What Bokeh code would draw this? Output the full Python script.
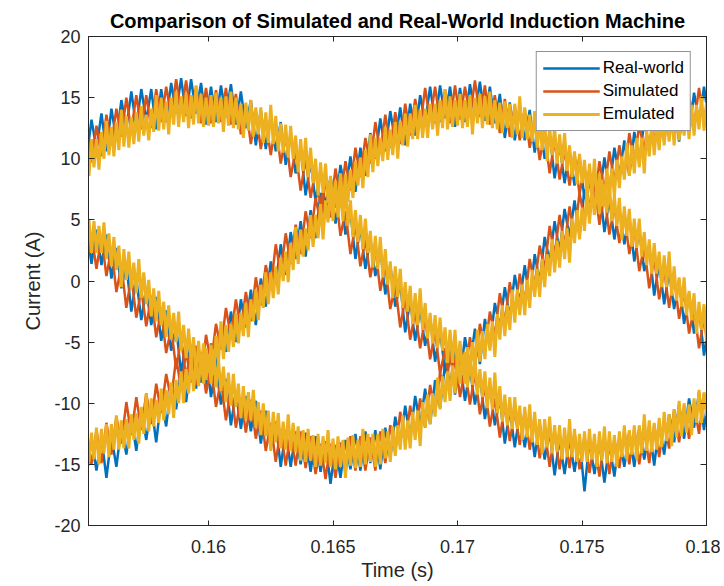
from bokeh.plotting import figure
from bokeh.models import (Range1d, FixedTicker, LinearAxis, CustomJSTickFormatter,
                          Legend, LegendItem)
from bokeh.embed import file_html
from bokeh.resources import INLINE

# ---------------- data ----------------
time_fine = [
    0.1551, 0.1552, 0.1553, 0.1554, 0.1555, 0.1556, 0.1557, 0.1558, 0.1559,
    0.1560, 0.1561, 0.1562, 0.1563, 0.1564, 0.1565, 0.1566, 0.1567, 0.1568, 0.1569,
    0.1570, 0.1571, 0.1572, 0.1573, 0.1574, 0.1575, 0.1576, 0.1577, 0.1578, 0.1579,
    0.1580, 0.1581, 0.1582, 0.1583, 0.1584, 0.1585, 0.1586, 0.1587, 0.1588, 0.1589,
    0.1590, 0.1591, 0.1592, 0.1593, 0.1594, 0.1595, 0.1596, 0.1597, 0.1598, 0.1599,
    0.1600, 0.1601, 0.1602, 0.1603, 0.1604, 0.1605, 0.1606, 0.1607, 0.1608, 0.1609,
    0.1610, 0.1611, 0.1612, 0.1613, 0.1614, 0.1615, 0.1616, 0.1617, 0.1618, 0.1619,
    0.1620, 0.1621, 0.1622, 0.1623, 0.1624, 0.1625, 0.1626, 0.1627, 0.1628, 0.1629,
    0.1630, 0.1631, 0.1632, 0.1633, 0.1634, 0.1635, 0.1636, 0.1637, 0.1638, 0.1639,
    0.1640, 0.1641, 0.1642, 0.1643, 0.1644, 0.1645, 0.1646, 0.1647, 0.1648, 0.1649,
    0.1650, 0.1651, 0.1652, 0.1653, 0.1654, 0.1655, 0.1656, 0.1657, 0.1658, 0.1659,
    0.1660, 0.1661, 0.1662, 0.1663, 0.1664, 0.1665, 0.1666, 0.1667, 0.1668, 0.1669,
    0.1670, 0.1671, 0.1672, 0.1673, 0.1674, 0.1675, 0.1676, 0.1677, 0.1678, 0.1679,
    0.1680, 0.1681, 0.1682, 0.1683, 0.1684, 0.1685, 0.1686, 0.1687, 0.1688, 0.1689,
    0.1690, 0.1691, 0.1692, 0.1693, 0.1694, 0.1695, 0.1696, 0.1697, 0.1698, 0.1699,
    0.1700, 0.1701, 0.1702, 0.1703, 0.1704, 0.1705, 0.1706, 0.1707, 0.1708, 0.1709,
    0.1710, 0.1711, 0.1712, 0.1713, 0.1714, 0.1715, 0.1716, 0.1717, 0.1718, 0.1719,
    0.1720, 0.1721, 0.1722, 0.1723, 0.1724, 0.1725, 0.1726, 0.1727, 0.1728, 0.1729,
    0.1730, 0.1731, 0.1732, 0.1733, 0.1734, 0.1735, 0.1736, 0.1737, 0.1738, 0.1739,
    0.1740, 0.1741, 0.1742, 0.1743, 0.1744, 0.1745, 0.1746, 0.1747, 0.1748, 0.1749,
    0.1750, 0.1751, 0.1752, 0.1753, 0.1754, 0.1755, 0.1756, 0.1757, 0.1758, 0.1759,
    0.1760, 0.1761, 0.1762, 0.1763, 0.1764, 0.1765, 0.1766, 0.1767, 0.1768, 0.1769,
    0.1770, 0.1771, 0.1772, 0.1773, 0.1774, 0.1775, 0.1776, 0.1777, 0.1778, 0.1779,
    0.1780, 0.1781, 0.1782, 0.1783, 0.1784, 0.1785, 0.1786, 0.1787, 0.1788, 0.1789,
    0.1790, 0.1791, 0.1792, 0.1793, 0.1794, 0.1795, 0.1796, 0.1797, 0.1798, 0.1799,
    0.1800, 0.1801,
]
time_coarse = time_fine[::2]

# Real-world (blue), sampled on time_coarse
real_a = [
    9.9, 13.2, 10.8, 13.7, 10.6, 14.1, 11.5, 14.8, 12.5, 15.5,
    12.6, 15.7, 13.1, 15.7, 12.4, 15.7, 13.0, 16.2, 13.7, 16.6,
    13.5, 16.5, 13.7, 16.2, 12.8, 15.9, 13.0, 16.0, 13.4, 16.1,
    12.8, 15.5, 12.5, 14.8, 11.1, 14.0, 10.8, 13.5, 10.6, 13.0,
    9.5, 12.0, 8.8, 10.9, 7.0, 9.8, 6.5, 9.1, 6.1, 8.4,
    4.7, 7.2, 3.8, 5.7, 1.8, 4.4, 1.0, 3.5, 0.4, 2.6,
    -1.1, 1.3, -2.1, -0.2, -4.2, -1.6, -4.9, -2.3, -5.3, -3.0,
    -6.6, -4.1, -7.4, -5.4, -9.3, -6.5, -9.8, -7.2, -10.1, -7.8,
    -11.3, -8.6, -11.8, -9.6, -13.3, -10.5, -13.6, -10.8, -13.6, -11.1,
    -14.4, -11.6, -14.6, -12.3, -15.9, -12.9, -15.8, -12.9, -15.6, -12.9,
    -17.2, -13.0, -15.8, -13.2, -16.5, -13.3, -16.0, -12.8, -15.2, -12.3,
    -15.2, -12.0, -14.6, -11.9, -15.1, -11.7, -14.2, -10.9, -13.2, -10.1,
    -12.9, -9.6, -12.0, -9.1, -12.2, -8.6,
]
real_b = [
    4.5, 1.4, 4.2, 1.3, 3.8, 0.2, 2.7, -0.6, 1.4, -2.5,
    0.2, -3.2, -0.6, -3.6, -1.3, -4.9, -2.4, -5.7, -3.7, -7.6,
    -4.8, -8.1, -5.4, -8.3, -6.0, -9.5, -6.9, -10.1, -8.0, -11.8,
    -9.0, -12.1, -9.4, -12.3, -9.8, -13.3, -10.6, -13.7, -11.5, -15.2,
    -12.2, -15.2, -12.3, -15.0, -12.4, -15.6, -12.7, -15.6, -13.1, -16.6,
    -13.4, -16.1, -13.0, -15.4, -12.5, -15.5, -12.3, -14.9, -12.2, -15.4,
    -12.0, -14.5, -11.1, -13.3, -10.2, -12.9, -9.4, -11.8, -8.8, -11.7,
    -8.1, -10.4, -6.8, -8.8, -5.5, -8.1, -4.6, -6.9, -3.9, -6.8,
    -3.1, -5.4, -1.8, -3.8, -0.5, -3.0, 0.5, -1.8, 1.3, -1.6,
    2.2, -0.1, 3.6, 1.6, 4.9, 2.4, 5.9, 3.6, 6.6, 3.7,
    7.5, 5.2, 8.8, 6.8, 10.1, 7.4, 10.9, 8.6, 11.5, 8.6,
    12.2, 9.7, 13.1, 10.9, 14.0, 11.2, 14.4, 11.9, 14.6, 11.4,
    14.8, 12.1, 15.4, 13.0, 15.9, 12.9,
]
real_c = [
    -16.0, -12.9, -15.5, -12.8, -16.1, -12.7, -15.2, -11.9, -14.2, -11.1,
    -13.9, -10.6, -13.0, -10.1, -13.2, -9.6, -11.9, -8.4, -10.5, -7.2,
    -9.9, -6.4, -8.8, -5.8, -8.7, -5.1, -7.4, -3.8, -5.8, -2.5,
    -5.0, -1.5, -3.8, -0.7, -3.6, 0.2, -2.1, 1.6, -0.3, 3.0,
    0.5, 4.0, 1.8, 4.9, 2.0, 5.8, 3.5, 7.2, 5.2, 8.5,
    6.0, 9.5, 7.2, 10.2, 7.3, 10.9, 8.6, 12.1, 10.0, 13.3,
    10.6, 13.9, 11.4, 14.2, 11.1, 14.5, 11.9, 15.2, 12.9, 15.9,
    12.9, 16.0, 13.3, 15.9, 12.6, 15.8, 13.0, 16.1, 13.6, 16.3,
    13.1, 15.9, 12.9, 15.3, 11.7, 14.6, 11.5, 14.3, 11.5, 14.0,
    10.5, 13.2, 10.0, 12.1, 8.4, 11.2, 8.0, 10.7, 7.8, 10.2,
    6.7, 9.2, 5.9, 7.9, 4.0, 6.7, 3.4, 6.0, 3.0, 5.3,
    1.6, 4.1, 0.8, 2.7, -1.2, 1.5, -1.9, 0.8, -2.3, 0.1,
    -3.5, -1.0, -4.3, -2.2, -6.1, -3.3,
]

# Simulated (orange), sampled on time_coarse
simulated_a = [
    12.3, 9.7, 12.7, 10.2, 13.6, 11.1, 14.1, 11.8, 15.0, 12.3,
    15.2, 12.4, 15.2, 12.5, 15.7, 13.0, 15.9, 13.5, 16.5, 13.7,
    16.4, 13.3, 15.9, 12.9, 15.8, 12.9, 15.6, 13.0, 15.8, 12.8,
    15.3, 12.0, 14.4, 11.2, 13.9, 10.8, 13.2, 10.3, 12.9, 9.6,
    11.9, 8.5, 10.7, 7.4, 10.0, 6.8, 9.1, 6.1, 8.6, 5.2,
    7.3, 3.7, 5.7, 2.2, 4.6, 1.2, 3.4, 0.3, 2.7, -0.8,
    1.3, -2.3, -0.3, -3.8, -1.4, -4.8, -2.5, -5.5, -3.0, -6.4,
    -4.1, -7.6, -5.5, -8.8, -6.3, -9.5, -7.2, -10.1, -7.5, -10.9,
    -8.6, -11.9, -9.6, -12.8, -10.1, -13.1, -10.6, -13.4, -10.6, -13.8,
    -11.3, -14.5, -12.1, -15.2, -12.4, -15.4, -12.7, -15.3, -12.4, -15.4,
    -12.7, -15.7, -13.1, -16.0, -13.0, -15.8, -12.9, -15.3, -12.2, -15.0,
    -12.1, -15.0, -12.2, -14.9, -11.8, -14.4, -11.4, -13.7, -10.5, -13.2,
    -10.2, -12.9, -10.0, -12.5, -9.2, -11.6,
]
simulated_b = [
    1.3, 3.8, 1.0, 3.6, 0.4, 2.7, -0.9, 1.3, -2.2, 0.4,
    -3.0, -0.7, -3.7, -1.2, -4.6, -2.4, -5.9, -3.8, -7.2, -4.7,
    -7.9, -5.5, -8.5, -5.9, -9.2, -6.9, -10.3, -8.1, -11.4, -8.8,
    -12.0, -9.5, -12.4, -9.7, -12.9, -10.6, -13.9, -11.6, -14.8, -12.1,
    -15.1, -12.4, -15.1, -12.3, -15.3, -12.7, -15.8, -13.3, -16.2, -13.3,
    -16.1, -13.2, -15.7, -12.7, -15.5, -12.7, -15.5, -12.8, -15.5, -12.3,
    -14.9, -11.8, -14.0, -10.7, -13.3, -10.2, -12.7, -9.6, -12.0, -8.5,
    -10.8, -7.5, -9.5, -6.0, -8.4, -5.2, -7.7, -4.6, -7.0, -3.5,
    -5.8, -2.5, -4.5, -1.0, -3.4, -0.1, -2.6, 0.6, -1.7, 1.8,
    -0.4, 2.9, 1.0, 4.5, 2.1, 5.4, 2.9, 6.1, 3.7, 7.2,
    5.0, 8.3, 6.3, 9.8, 7.4, 10.6, 8.1, 11.1, 8.6, 12.1,
    9.7, 12.8, 10.6, 13.9, 11.3, 14.2, 11.4, 14.3, 11.6, 14.8,
    12.2, 15.1, 12.7, 15.8, 13.0, 15.8,
]
simulated_c = [
    -12.3, -15.0, -12.2, -14.9, -11.6, -14.2, -11.1, -13.3, -9.9, -12.6,
    -9.5, -12.2, -9.2, -11.7, -8.4, -10.8, -7.6, -9.7, -6.3, -8.8,
    -5.7, -8.3, -5.3, -7.8, -4.4, -6.8, -3.5, -5.6, -2.2, -4.6,
    -1.5, -4.0, -0.9, -3.3, 0.3, -2.0, 1.3, -0.6, 3.0, 0.6,
    3.9, 1.4, 4.6, 2.2, 5.7, 3.5, 6.8, 4.8, 8.3, 5.9,
    9.2, 6.7, 9.8, 7.4, 10.9, 8.5, 11.7, 9.6, 13.0, 10.5,
    13.6, 10.9, 13.8, 11.2, 14.5, 11.9, 14.9, 12.6, 15.8, 13.1,
    15.9, 13.0, 15.7, 12.9, 16.0, 13.2, 15.9, 13.4, 16.4, 13.4,
    16.0, 12.8, 15.2, 12.1, 14.9, 11.8, 14.3, 11.5, 14.1, 10.9,
    13.2, 9.9, 12.1, 8.8, 11.5, 8.3, 10.7, 7.8, 10.4, 7.1,
    9.4, 5.9, 8.0, 4.6, 7.1, 3.8, 6.1, 3.1, 5.6, 2.2,
    4.3, 0.8, 2.9, -0.6, 1.9, -1.5, 0.9, -2.2, 0.4, -3.1,
    -0.8, -4.3, -2.2, -5.5, -3.0, -6.2,
]

# Emulated (yellow), sampled on time_fine
emulated_a = [
    10.9, 8.6, 11.6, 9.3, 11.6, 9.1, 12.2, 10.0, 13.1,
    10.3, 12.6, 10.2, 13.0, 10.7, 14.0, 11.0, 13.5, 10.9, 13.4,
    11.2, 13.8, 11.4, 14.3, 11.9, 13.6, 11.5, 14.1, 12.2, 15.2,
    12.3, 15.0, 12.4, 14.7, 12.0, 15.0, 12.8, 15.5, 12.6, 15.1,
    13.0, 15.3, 12.5, 15.2, 12.8, 16.0, 12.9, 15.3, 12.6, 15.0,
    12.7, 15.2, 12.6, 15.4, 12.9, 15.0, 12.2, 15.1, 12.7, 15.5,
    12.5, 15.0, 12.4, 14.5, 11.7, 14.6, 12.3, 14.8, 11.8, 14.2,
    12.0, 14.2, 11.3, 13.8, 11.3, 14.4, 11.2, 13.5, 10.6, 12.9,
    10.5, 12.8, 10.1, 12.7, 10.0, 11.9, 8.9, 11.6, 9.0, 11.7,
    8.5, 10.9, 8.0, 10.0, 7.0, 9.7, 7.2, 9.6, 6.4, 8.6,
    6.2, 8.2, 5.2, 7.6, 4.9, 7.9, 4.5, 6.6, 3.6, 5.8,
    3.2, 5.4, 2.6, 5.1, 2.3, 4.1, 1.1, 3.7, 1.0, 3.6,
    0.3, 2.6, -0.3, 1.6, -1.4, 1.2, -1.3, 1.0, -2.2, -0.1,
    -2.5, -0.4, -3.5, -1.0, -3.6, -0.6, -4.0, -1.8, -4.7, -2.6,
    -5.1, -2.8, -5.5, -3.0, -5.7, -3.8, -6.7, -4.0, -6.7, -4.0,
    -7.2, -4.9, -7.7, -5.8, -8.7, -6.1, -8.5, -6.2, -9.3, -7.2,
    -9.5, -7.4, -10.4, -7.9, -10.5, -7.5, -10.8, -8.6, -11.5, -9.3,
    -11.8, -9.5, -12.1, -9.5, -12.1, -10.2, -13.0, -10.3, -12.8, -10.1,
    -13.2, -10.7, -13.4, -11.3, -14.1, -11.3, -13.6, -11.1, -14.1, -11.8,
    -14.0, -11.8, -14.6, -12.0, -14.4, -11.3, -14.4, -12.1, -14.8, -12.5,
    -14.8, -12.3, -14.8, -12.1, -14.6, -12.5, -15.2, -12.3, -14.7, -11.9,
    -14.9, -12.3, -14.8, -12.6, -15.2, -12.3, -14.4, -11.8, -14.6, -12.2,
    -14.2, -11.8, -14.6, -11.8, -14.1, -10.9, -13.9, -11.4, -14.0, -11.6,
    -13.8, -11.2, -13.6, -10.7, -13.1, -10.9, -13.5, -10.5, -12.8, -9.8,
    -12.7, -10.0, -12.4, -10.1, -12.6, -9.6, -11.6, -8.9, -11.6, -9.1,
    -11.0, -8.5,
]
emulated_b = [
    3.1, 5.0, 2.3, 4.9, 2.3, 4.5, 2.3, 4.8, 1.8,
    3.9, 1.2, 3.6, 0.9, 2.9, -0.5, 2.6, 0.1, 2.4, -0.6,
    1.5, -1.0, 1.8, -1.4, 0.7, -1.9, 0.1, -2.9, -0.6, -3.3,
    -0.8, -3.6, -1.7, -4.6, -2.0, -4.8, -2.6, -5.0, -2.5, -5.7,
    -3.6, -6.3, -3.9, -6.6, -4.6, -8.0, -4.9, -7.4, -5.1, -8.1,
    -6.0, -8.4, -5.6, -8.7, -6.5, -9.0, -7.0, -9.9, -7.5, -10.2,
    -7.6, -10.3, -8.4, -11.2, -8.6, -11.3, -9.1, -11.4, -8.9, -12.0,
    -9.9, -12.6, -10.0, -12.7, -10.6, -13.9, -10.7, -13.2, -10.8, -13.7,
    -11.5, -13.8, -10.9, -13.9, -11.6, -14.0, -11.9, -14.7, -12.2, -14.8,
    -12.1, -14.7, -12.6, -15.2, -12.5, -15.1, -12.7, -14.9, -12.2, -15.2,
    -12.9, -15.4, -12.7, -15.2, -13.0, -16.1, -12.8, -15.1, -12.6, -15.3,
    -13.0, -15.2, -12.1, -15.0, -12.5, -14.8, -12.5, -15.2, -12.5, -15.0,
    -12.1, -14.5, -12.3, -14.8, -11.9, -14.3, -11.8, -13.8, -11.0, -13.8,
    -11.4, -13.7, -10.7, -13.0, -10.6, -13.5, -9.9, -12.0, -9.3, -11.7,
    -9.2, -11.1, -7.9, -10.5, -7.8, -9.9, -7.4, -9.8, -6.9, -9.2,
    -6.1, -8.4, -6.0, -8.4, -5.4, -7.7, -5.0, -6.9, -4.0, -6.6,
    -4.1, -6.4, -3.5, -5.7, -3.3, -6.2, -2.7, -4.8, -2.0, -4.5,
    -2.0, -4.0, -0.7, -3.4, -0.7, -2.8, -0.3, -2.8, 0.1, -2.2,
    0.9, -1.3, 1.0, -1.3, 1.8, -0.5, 2.2, 0.4, 3.4, 0.7,
    3.3, 1.1, 4.1, 1.8, 4.3, 1.5, 5.1, 3.1, 5.8, 3.4,
    6.0, 4.1, 7.4, 4.7, 7.4, 5.4, 7.9, 5.5, 8.3, 6.1,
    9.2, 6.9, 9.2, 6.9, 9.9, 7.6, 10.2, 8.3, 11.3, 8.6,
    11.1, 8.8, 11.7, 9.3, 11.7, 8.8, 12.3, 10.2, 12.8, 10.3,
    12.8, 10.7, 13.8, 11.1, 13.6, 11.4, 13.7, 11.1, 13.9, 11.5,
    14.4, 11.9, 14.1, 11.6, 14.4, 11.9, 14.4, 12.4, 15.1, 12.3,
    14.6, 12.1,
]
emulated_c = [
    -12.0, -14.8, -12.4, -14.6, -12.0, -15.0, -12.1, -14.1, -11.7,
    -14.4, -11.7, -13.8, -11.0, -13.8, -11.4, -13.7, -11.3, -13.7, -10.9,
    -13.0, -10.8, -13.3, -10.3, -12.5, -9.2, -12.3, -9.6, -11.9, -9.7,
    -11.6, -8.8, -11.4, -8.9, -10.9, -8.3, -11.2, -8.1, -10.0, -7.4,
    -10.0, -7.2, -9.2, -6.3, -9.0, -6.5, -8.6, -6.1, -8.4, -5.5,
    -7.5, -5.2, -7.7, -4.5, -6.7, -3.3, -6.4, -3.6, -5.8, -3.5,
    -5.4, -2.6, -5.1, -2.6, -4.5, -1.8, -4.6, -1.5, -3.3, -0.7,
    -3.2, -0.3, -2.2, 0.7, -1.9, 0.7, -1.4, 1.2, -1.1, 1.9,
    0.0, 2.4, -0.1, 3.1, 0.9, 4.4, 1.4, 4.2, 2.0, 4.3,
    2.5, 5.4, 2.8, 5.4, 3.5, 6.3, 3.4, 6.6, 4.8, 7.4,
    4.9, 7.8, 5.8, 8.8, 6.1, 8.7, 6.5, 9.1, 6.8, 9.8,
    7.8, 10.1, 7.6, 10.7, 8.5, 12.0, 8.9, 11.7, 9.4, 11.7,
    9.8, 12.6, 9.9, 12.4, 10.3, 13.0, 10.0, 13.1, 11.1, 13.7,
    11.0, 13.7, 11.6, 14.4, 11.6, 14.0, 11.7, 14.1, 11.7, 14.5,
    12.4, 14.5, 11.9, 14.8, 12.5, 15.7, 12.4, 15.1, 12.6, 14.8,
    12.7, 15.3, 12.5, 14.8, 12.6, 15.2, 12.0, 15.0, 12.9, 15.3,
    12.5, 15.1, 12.8, 15.5, 12.5, 14.8, 12.4, 14.6, 12.1, 14.7,
    12.5, 14.5, 11.7, 14.5, 12.0, 15.1, 11.7, 14.2, 11.6, 13.6,
    11.4, 13.9, 10.9, 13.1, 10.7, 13.1, 9.8, 12.6, 10.3, 12.6,
    9.6, 12.0, 9.6, 12.1, 9.0, 11.1, 8.5, 10.6, 7.9, 10.4,
    8.0, 9.9, 6.9, 9.6, 7.0, 10.0, 6.4, 8.8, 6.1, 7.9,
    5.6, 8.0, 4.9, 7.0, 4.5, 6.8, 3.4, 6.1, 3.7, 5.9,
    2.8, 5.1, 2.7, 5.1, 2.0, 4.0, 1.3, 3.4, 0.6, 3.1,
    0.6, 2.4, -0.5, 2.1, -0.5, 2.4, -1.2, 1.2, -1.6, 0.3,
    -2.1, 0.3, -2.8, -0.8, -3.2, -1.0, -4.3, -1.7, -4.0, -1.9,
    -4.9, -2.5,
]

x_ticks = [0.16, 0.165, 0.17, 0.175, 0.18]
x_tick_labels = ["0.16", "0.165", "0.17", "0.175", "0.18"]
y_ticks = [-20, -15, -10, -5, 0, 5, 10, 15, 20]
y_tick_labels = ["-20", "-15", "-10", "-5", "0", "5", "10", "15", "20"]

series_names = ["Real-world", "Simulated", "Emulated"]
series_colors = ["#0072BD", "#D95319", "#EDB120"]
series_widths = [2.5, 2.5, 3]
series_time = [time_coarse, time_coarse, time_fine]
series_curves = [
    [real_a, real_b, real_c],
    [simulated_a, simulated_b, simulated_c],
    [emulated_a, emulated_b, emulated_c],
]

# ---------------- figure ----------------
FONT = "Liberation Sans"
INK = "#262626"

p = figure(width=720, height=584, output_backend="svg", toolbar_location=None,
           x_range=Range1d(0.15518, 0.18), y_range=Range1d(-20, 20),
           min_border_left=88, min_border_right=14, min_border_top=36,
           min_border_bottom=59,
           title="Comparison of Simulated and Real-World Induction Machine")
p.grid.visible = False
p.background_fill_color = "white"
p.border_fill_color = "white"
p.outline_line_color = INK
p.outline_line_width = 1

p.title.text_font = FONT
p.title.text_font_size = "20px"
p.title.text_font_style = "bold"
p.title.text_color = "#000000"
p.title.align = "center"
p.title.standoff = 9

renderers = []
for name, color, lw, t, curves in zip(series_names, series_colors, series_widths,
                                      series_time, series_curves):
    rs = [p.line(t, y, line_color=color, line_width=lw) for y in curves]
    renderers.append(rs)

# axes
xa = p.xaxis[0]
ya = p.yaxis[0]
xa.ticker = FixedTicker(ticks=x_ticks)
xa.major_label_overrides = dict(zip(x_ticks, x_tick_labels))
ya.ticker = FixedTicker(ticks=y_ticks)
ya.major_label_overrides = dict(zip(y_ticks, y_tick_labels))
for ax in (xa, ya):
    ax.axis_line_color = INK
    ax.major_tick_line_color = INK
    ax.minor_tick_line_color = None
    ax.major_tick_out = 0
    ax.major_label_text_font = FONT
    ax.major_label_text_font_size = "18px"
    ax.major_label_text_color = INK
    ax.axis_label_text_font = FONT
    ax.axis_label_text_font_size = "20px"
    ax.axis_label_text_font_style = "normal"
    ax.axis_label_text_color = INK
xa.major_tick_in = 5
ya.major_tick_in = 6
xa.axis_label = "Time (s)"
ya.axis_label = "Current (A)"
xa.major_label_standoff = 14
xa.axis_label_standoff = 3
ya.major_label_standoff = 8
ya.axis_label_standoff = 7

blank = CustomJSTickFormatter(code="return ''")
for ticks, place, tin in ((x_ticks, "above", 5), (y_ticks, "right", 6)):
    ax = LinearAxis(ticker=FixedTicker(ticks=ticks), formatter=blank,
                    axis_line_color=INK, major_tick_line_color=INK,
                    minor_tick_line_color=None, major_tick_in=tin, major_tick_out=0,
                    major_label_standoff=0, major_label_text_font_size="1px")
    p.add_layout(ax, place)

legend = Legend(items=[LegendItem(label=n, renderers=[rs[0]])
                       for n, rs in zip(series_names, renderers)],
                location="top_right", margin=15, padding=6, spacing=3,
                glyph_width=57, glyph_height=20, label_height=20, label_standoff=3,
                label_text_font=FONT, label_text_font_size="17px",
                label_text_color="#000000",
                border_line_color=INK, border_line_width=1,
                background_fill_color="white", background_fill_alpha=1.0)
p.add_layout(legend)

open("out.html", "w").write(file_html(p, INLINE))
